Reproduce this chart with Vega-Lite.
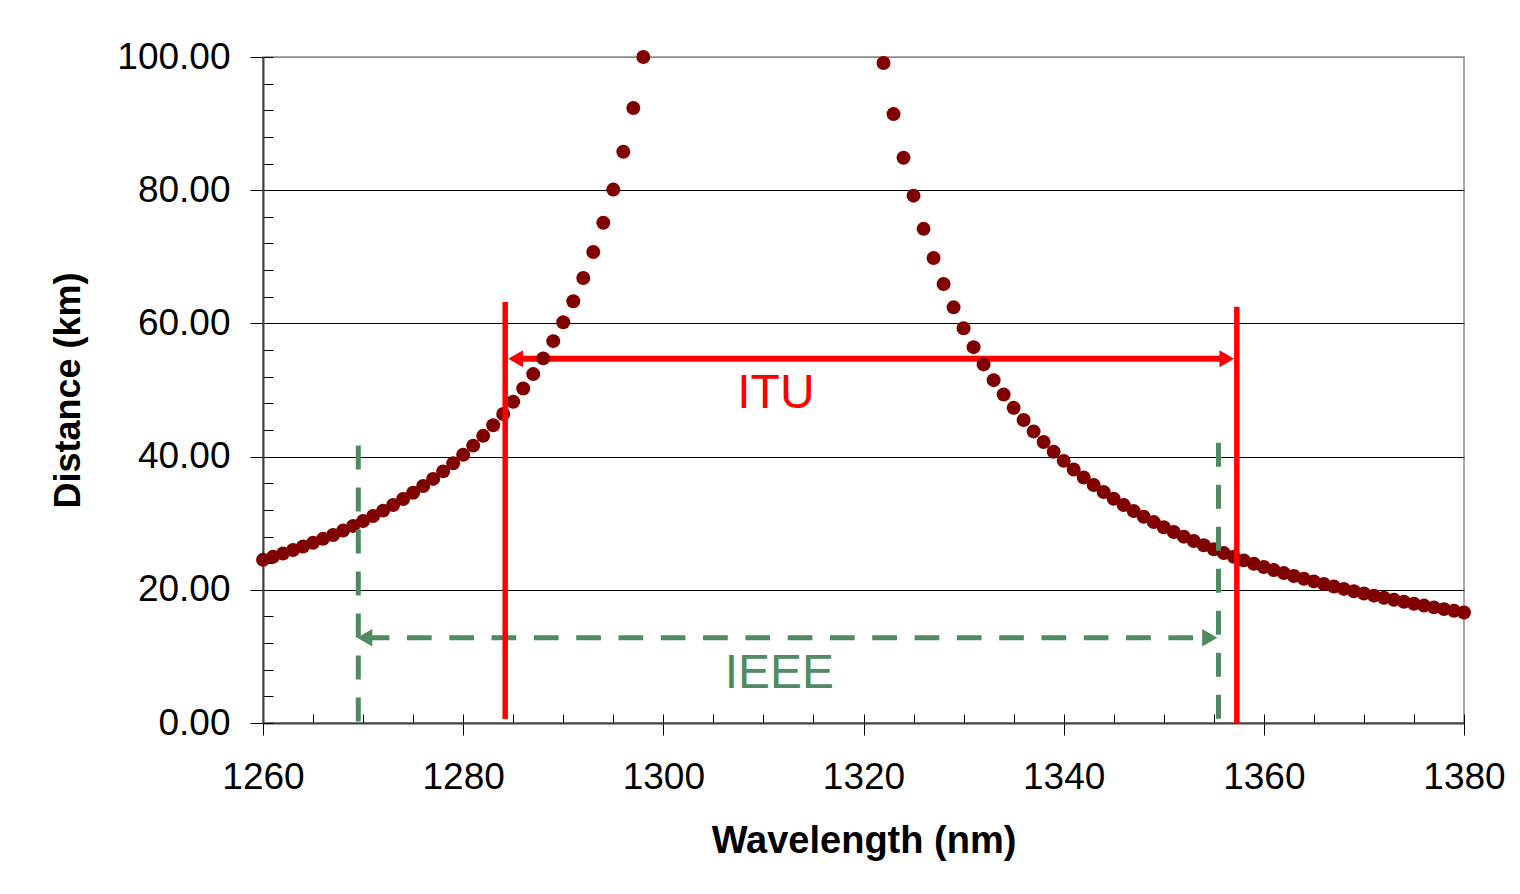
{
  "$schema": "https://vega.github.io/schema/vega-lite/v6.json",
  "width": 1201,
  "height": 666,
  "autosize": "none",
  "padding": {"left": 263, "top": 57, "right": 56, "bottom": 171},
  "background": "white",
  "config": {
    "view": {"stroke": "#8c8c8c", "strokeWidth": 1.5},
    "font": "Liberation Sans",
    "axis": {"labelFont": "Liberation Sans", "titleFont": "Liberation Sans", "labelColor": "black", "titleColor": "black"}
  },
  "datasets": {
    "curve": [
      {"wavelength": 1260, "distance": 24.5}, {"wavelength": 1261, "distance": 24.95}, {"wavelength": 1262, "distance": 25.45},
      {"wavelength": 1263, "distance": 25.97}, {"wavelength": 1264, "distance": 26.5}, {"wavelength": 1265, "distance": 27.06},
      {"wavelength": 1266, "distance": 27.65}, {"wavelength": 1267, "distance": 28.23}, {"wavelength": 1268, "distance": 28.89},
      {"wavelength": 1269, "distance": 29.59}, {"wavelength": 1270, "distance": 30.32}, {"wavelength": 1271, "distance": 31.08},
      {"wavelength": 1272, "distance": 31.89}, {"wavelength": 1273, "distance": 32.74}, {"wavelength": 1274, "distance": 33.63},
      {"wavelength": 1275, "distance": 34.58}, {"wavelength": 1276, "distance": 35.59}, {"wavelength": 1277, "distance": 36.65},
      {"wavelength": 1278, "distance": 37.78}, {"wavelength": 1279, "distance": 38.99}, {"wavelength": 1280, "distance": 40.27},
      {"wavelength": 1281, "distance": 41.65}, {"wavelength": 1282, "distance": 43.12}, {"wavelength": 1283, "distance": 44.7},
      {"wavelength": 1284, "distance": 46.4}, {"wavelength": 1285, "distance": 48.24}, {"wavelength": 1286, "distance": 50.23},
      {"wavelength": 1287, "distance": 52.39}, {"wavelength": 1288, "distance": 54.75}, {"wavelength": 1289, "distance": 57.34},
      {"wavelength": 1290, "distance": 60.18}, {"wavelength": 1291, "distance": 63.33}, {"wavelength": 1292, "distance": 66.82},
      {"wavelength": 1293, "distance": 70.72}, {"wavelength": 1294, "distance": 75.12}, {"wavelength": 1295, "distance": 80.09},
      {"wavelength": 1296, "distance": 85.78}, {"wavelength": 1297, "distance": 92.35}, {"wavelength": 1298, "distance": 100.0},
      {"wavelength": 1322, "distance": 99.09}, {"wavelength": 1323, "distance": 91.43}, {"wavelength": 1324, "distance": 84.87},
      {"wavelength": 1325, "distance": 79.18}, {"wavelength": 1326, "distance": 74.2}, {"wavelength": 1327, "distance": 69.81},
      {"wavelength": 1328, "distance": 65.91}, {"wavelength": 1329, "distance": 62.41}, {"wavelength": 1330, "distance": 59.27},
      {"wavelength": 1331, "distance": 56.43}, {"wavelength": 1332, "distance": 53.84}, {"wavelength": 1333, "distance": 51.48},
      {"wavelength": 1334, "distance": 49.32}, {"wavelength": 1335, "distance": 47.32}, {"wavelength": 1336, "distance": 45.49},
      {"wavelength": 1337, "distance": 43.78}, {"wavelength": 1338, "distance": 42.2}, {"wavelength": 1339, "distance": 40.73},
      {"wavelength": 1340, "distance": 39.36}, {"wavelength": 1341, "distance": 38.07}, {"wavelength": 1342, "distance": 36.87},
      {"wavelength": 1343, "distance": 35.74}, {"wavelength": 1344, "distance": 34.67}, {"wavelength": 1345, "distance": 33.67},
      {"wavelength": 1346, "distance": 32.72}, {"wavelength": 1347, "distance": 31.82}, {"wavelength": 1348, "distance": 30.97},
      {"wavelength": 1349, "distance": 30.17}, {"wavelength": 1350, "distance": 29.4}, {"wavelength": 1351, "distance": 28.67},
      {"wavelength": 1352, "distance": 27.98}, {"wavelength": 1353, "distance": 27.32}, {"wavelength": 1354, "distance": 26.69},
      {"wavelength": 1355, "distance": 26.08}, {"wavelength": 1356, "distance": 25.51}, {"wavelength": 1357, "distance": 24.95},
      {"wavelength": 1358, "distance": 24.42}, {"wavelength": 1359, "distance": 23.92}, {"wavelength": 1360, "distance": 23.43},
      {"wavelength": 1361, "distance": 22.96}, {"wavelength": 1362, "distance": 22.51}, {"wavelength": 1363, "distance": 22.08},
      {"wavelength": 1364, "distance": 21.66}, {"wavelength": 1365, "distance": 21.26}, {"wavelength": 1366, "distance": 20.87},
      {"wavelength": 1367, "distance": 20.49}, {"wavelength": 1368, "distance": 20.13}, {"wavelength": 1369, "distance": 19.78},
      {"wavelength": 1370, "distance": 19.44}, {"wavelength": 1371, "distance": 19.12}, {"wavelength": 1372, "distance": 18.8},
      {"wavelength": 1373, "distance": 18.5}, {"wavelength": 1374, "distance": 18.2}, {"wavelength": 1375, "distance": 17.91},
      {"wavelength": 1376, "distance": 17.63}, {"wavelength": 1377, "distance": 17.36}, {"wavelength": 1378, "distance": 17.1},
      {"wavelength": 1379, "distance": 16.85}, {"wavelength": 1380, "distance": 16.6}
    ],
    "itu_lines": [
      {"wavelength": 1284.2, "top": 63.2, "bottom": 0.6},
      {"wavelength": 1357.3, "top": 62.5, "bottom": 0}
    ],
    "ieee_lines": [
      {"wavelength": 1269.52, "top": 41.66, "bottom": 0.2},
      {"wavelength": 1355.47, "top": 42.07, "bottom": 0.6}
    ],
    "itu_span": [{"start": 1285.24, "end": 1356.3, "distance": 54.7}],
    "ieee_span": [{"start": 1270.16, "end": 1354.6, "distance": 12.8}],
    "itu_heads": [
      {"wavelength": 1285.24, "distance": 54.7, "dir": "left"},
      {"wavelength": 1356.3, "distance": 54.7, "dir": "right"}
    ],
    "ieee_heads": [
      {"wavelength": 1270.16, "distance": 12.8, "dir": "left"},
      {"wavelength": 1354.6, "distance": 12.8, "dir": "right"}
    ],
    "labels": [
      {"wavelength": 1311.25, "distance": 47.3, "label": "ITU", "standard": "ITU"},
      {"wavelength": 1311.6, "distance": 5.26, "label": "IEEE", "standard": "IEEE"}
    ]
  },
  "resolve": {"axis": {"x": "independent", "y": "independent"}},
  "layer": [
    {
      "data": {"name": "itu_span"},
      "mark": {"type": "rule", "color": "#ff0000", "strokeWidth": 6, "strokeCap": "butt"},
      "encoding": {
        "x": {"field": "start", "type": "quantitative", "scale": {"domain": [1260, 1380], "nice": false, "zero": false},
          "axis": {"orient": "bottom", "values": [1260, 1265, 1270, 1275, 1280, 1285, 1290, 1295, 1300, 1305, 1310, 1315, 1320, 1325, 1330, 1335, 1340, 1345, 1350, 1355, 1360, 1365, 1370, 1375, 1380],
            "tickSize": -9, "tickColor": "black", "tickWidth": 1, "labels": false, "domain": false, "grid": false, "title": null}},
        "x2": {"field": "end"},
        "y": {"field": "distance", "type": "quantitative", "scale": {"domain": [0, 100], "nice": false, "zero": false},
          "axis": {"orient": "left", "values": [0, 4, 8, 12, 16, 20, 24, 28, 32, 36, 40, 44, 48, 52, 56, 60, 64, 68, 72, 76, 80, 84, 88, 92, 96, 100],
            "tickSize": -10, "tickColor": "black", "tickWidth": 1, "labels": false, "domain": false, "grid": false, "title": null}}
      }
    },
    {
      "data": {"name": "itu_heads"},
      "mark": {"type": "point", "filled": true, "opacity": 1, "size": 290, "color": "#ff0000"},
      "encoding": {
        "x": {"field": "wavelength", "type": "quantitative", "scale": {"domain": [1260, 1380], "nice": false, "zero": false}, "axis": null},
        "y": {"field": "distance", "type": "quantitative", "scale": {"domain": [0, 100], "nice": false, "zero": false}, "axis": null},
        "shape": {"field": "dir", "type": "nominal", "scale": {"domain": ["left", "right"], "range": ["triangle-left", "triangle-right"]}, "legend": null}
      }
    },
    {
      "data": {"name": "curve"},
      "mark": {"type": "circle", "size": 195, "color": "#800000", "opacity": 1},
      "encoding": {
        "x": {"field": "wavelength", "type": "quantitative", "scale": {"domain": [1260, 1380], "nice": false, "zero": false},
          "axis": {"orient": "bottom", "values": [1260, 1280, 1300, 1320, 1340, 1360, 1380], "format": "d", "title": "Wavelength (nm)", "titleFontSize": 38, "titleFontWeight": "bold",
            "labelFontSize": 37, "labelPadding": 24, "titlePadding": 27, "tickSize": 12, "tickColor": "black", "tickWidth": 1,
            "domainColor": "#404040", "domainWidth": 2, "grid": false, "labelFlush": false, "labelOverlap": false}},
        "y": {"field": "distance", "type": "quantitative", "scale": {"domain": [0, 100], "nice": false, "zero": false},
          "axis": {"orient": "left", "values": [0, 20, 40, 60, 80, 100], "format": ".2f", "title": "Distance (km)", "titleFontSize": 36, "titleFontWeight": "bold",
            "labelFontSize": 37, "labelPadding": 20, "titlePadding": 29, "tickSize": 13, "tickColor": "black", "tickWidth": 1,
            "domainColor": "#404040", "domainWidth": 2, "grid": true,
            "gridColor": {"condition": {"test": "datum.value >= 100", "value": "#8c8c8c"}, "value": "black"}, "gridWidth": 1, "labelOverlap": false}}
      }
    },
    {
      "data": {"name": "ieee_lines"},
      "mark": {"type": "rule", "color": "#508a60", "strokeWidth": 5, "strokeDash": [24, 18], "strokeCap": "butt"},
      "encoding": {
        "x": {"field": "wavelength", "type": "quantitative", "scale": {"domain": [1260, 1380], "nice": false, "zero": false}, "axis": null},
        "y": {"field": "top", "type": "quantitative", "scale": {"domain": [0, 100], "nice": false, "zero": false}, "axis": null},
        "y2": {"field": "bottom"}
      }
    },
    {
      "data": {"name": "ieee_span"},
      "mark": {"type": "rule", "color": "#508a60", "strokeWidth": 5, "strokeDash": [24.7, 17.6], "strokeCap": "butt"},
      "encoding": {
        "x": {"field": "start", "type": "quantitative", "scale": {"domain": [1260, 1380], "nice": false, "zero": false}, "axis": null},
        "x2": {"field": "end"},
        "y": {"field": "distance", "type": "quantitative", "scale": {"domain": [0, 100], "nice": false, "zero": false}, "axis": null}
      }
    },
    {
      "data": {"name": "ieee_heads"},
      "mark": {"type": "point", "filled": true, "opacity": 1, "size": 310, "color": "#508a60"},
      "encoding": {
        "x": {"field": "wavelength", "type": "quantitative", "scale": {"domain": [1260, 1380], "nice": false, "zero": false}, "axis": null},
        "y": {"field": "distance", "type": "quantitative", "scale": {"domain": [0, 100], "nice": false, "zero": false}, "axis": null},
        "shape": {"field": "dir", "type": "nominal", "scale": {"domain": ["left", "right"], "range": ["triangle-left", "triangle-right"]}, "legend": null}
      }
    },
    {
      "data": {"name": "itu_lines"},
      "mark": {"type": "rule", "color": "#ff0000", "strokeWidth": 5.5, "strokeCap": "butt"},
      "encoding": {
        "x": {"field": "wavelength", "type": "quantitative", "scale": {"domain": [1260, 1380], "nice": false, "zero": false}, "axis": null},
        "y": {"field": "top", "type": "quantitative", "scale": {"domain": [0, 100], "nice": false, "zero": false}, "axis": null},
        "y2": {"field": "bottom"}
      }
    },
    {
      "data": {"name": "labels"},
      "mark": {"type": "text", "fontSize": 48, "font": "Liberation Sans", "align": "center", "baseline": "alphabetic"},
      "encoding": {
        "x": {"field": "wavelength", "type": "quantitative", "scale": {"domain": [1260, 1380], "nice": false, "zero": false}, "axis": null},
        "y": {"field": "distance", "type": "quantitative", "scale": {"domain": [0, 100], "nice": false, "zero": false}, "axis": null},
        "text": {"field": "label"},
        "color": {"field": "standard", "type": "nominal", "scale": {"domain": ["ITU", "IEEE"], "range": ["#ff0000", "#508a60"]}, "legend": null}
      }
    }
  ]
}
